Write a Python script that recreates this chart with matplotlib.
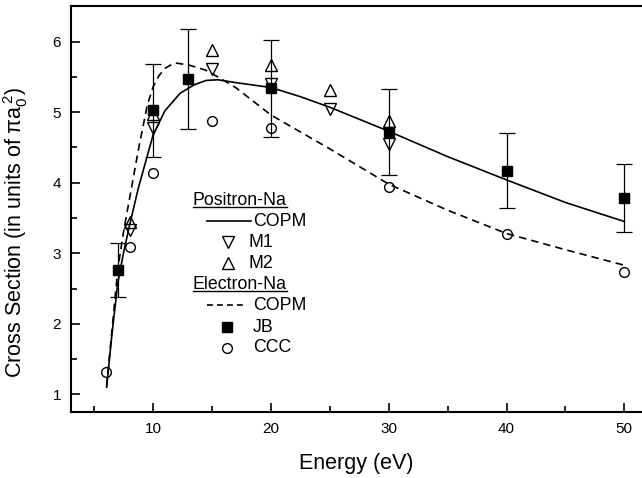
import matplotlib
matplotlib.use('Agg')
import matplotlib.pyplot as plt
from matplotlib.ticker import MultipleLocator
from matplotlib.lines import Line2D

plt.rcParams['font.family'] = ['Liberation Sans', 'DejaVu Sans']
plt.rcParams['mathtext.fontset'] = 'custom'
plt.rcParams['mathtext.rm'] = 'Liberation Sans'
plt.rcParams['mathtext.it'] = 'Liberation Sans'
plt.rcParams['mathtext.sf'] = 'Liberation Sans'

# ---------------- data ----------------
# Positron-Na COPM (solid curve)
pos_E = [6.05, 6.5, 7.0, 7.5, 8.0, 8.75, 9.5, 10.0, 11.0, 12.3, 13.5, 14.5, 15.5,
         17.0, 20.0, 22.5, 25.0, 27.5, 30.0, 35.0, 40.0, 45.0, 50.0]
pos_copm = [1.10, 1.85, 2.58, 3.02, 3.40, 3.93, 4.38, 4.68, 5.02, 5.27, 5.39, 5.45, 5.46,
            5.42, 5.35, 5.22, 5.07, 4.90, 4.73, 4.37, 4.04, 3.72, 3.45]
# Electron-Na COPM (dashed curve)
ele_E = [6.05, 6.5, 7.0, 7.5, 8.0, 8.75, 9.5, 10.0, 10.5, 11.0, 11.8, 13.0, 14.4, 15.5,
         17.0, 20.0, 25.0, 30.0, 35.0, 40.0, 45.0, 50.0]
ele_copm = [1.12, 1.90, 2.78, 3.32, 3.78, 4.47, 5.10, 5.36, 5.52, 5.62, 5.70, 5.67, 5.60, 5.50,
            5.35, 4.96, 4.48, 3.98, 3.61, 3.28, 3.05, 2.83]
# M1, M2 (positron)
m1_E = [8, 10, 15, 20, 25, 30]
m1 = [3.33, 4.77, 5.61, 5.40, 5.04, 4.55]
m2_E = [8, 10, 15, 20, 25, 30]
m2 = [3.45, 4.97, 5.88, 5.67, 5.32, 4.87]
# JB (electron, experiment)
jb_E = [7, 10, 13, 20, 30, 40, 50]
jb = [2.76, 5.03, 5.47, 5.34, 4.72, 4.17, 3.78]
jb_err = [0.38, 0.66, 0.71, 0.69, 0.61, 0.53, 0.48]
# CCC (electron)
ccc_E = [6, 8, 10, 15, 20, 30, 40, 50]
ccc = [1.31, 3.09, 4.14, 4.87, 4.77, 3.94, 3.27, 2.74]

W, H = 642, 478
fig = plt.figure(figsize=(W / 100, H / 100), dpi=100)
AX_L, AX_R, AX_T, AX_B = 70.7, 642.0, 5.7, 412.3
ax = fig.add_axes([AX_L / W, 1 - AX_B / H, (AX_R - AX_L) / W, (AX_B - AX_T) / H])

ax.plot(pos_E, pos_copm, color='k', lw=1.2, solid_joinstyle='round')
ax.plot(ele_E, ele_copm, color='k', lw=1.2, dashes=(4.5, 3))
ax.plot(m1_E, m1, 'v', mfc='none', mec='k', ms=8, mew=1.0, ls='none')
ax.plot(m2_E, m2, '^', mfc='none', mec='k', ms=8, mew=1.0, ls='none')
ax.plot(ccc_E, ccc, 'o', mfc='none', mec='k', ms=7, mew=1.0, ls='none')
ax.errorbar(jb_E, jb, yerr=jb_err, fmt='s', color='k', ms=6.5, capsize=6,
            elinewidth=0.9, capthick=0.9, zorder=5)

ax.set_xlim(3, 51.5)
ax.set_ylim(0.745, 6.51)
ax.xaxis.set_major_locator(MultipleLocator(10))
ax.xaxis.set_minor_locator(MultipleLocator(5))
ax.yaxis.set_major_locator(MultipleLocator(1))
ax.yaxis.set_minor_locator(MultipleLocator(0.5))
ax.tick_params(which='both', direction='in', top=False, right=False, width=1.2,
               labelsize=11, pad=7)
ax.tick_params(which='major', length=6.5)
ax.tick_params(which='minor', length=4)
for s in ['left', 'bottom', 'top']:
    ax.spines[s].set_linewidth(1.5)
ax.spines['right'].set_visible(False)

ax.set_xlabel('Energy (eV)', fontsize=15.5, labelpad=12)
ax.set_ylabel(r'Cross Section (in units of $\pi a_0^{\,2}$)', fontsize=15.5)
ax.yaxis.set_label_coords(-0.072, 0.443)


# ---------------- legend (manual) ----------------
def p2a(x, y):
    return ((x - AX_L) / (AX_R - AX_L), (AX_B - y) / (AX_B - AX_T))


rows = [200, 221, 242, 263, 284, 305, 327, 348]
fs = 12.8
lab_x = 253
hdrs = []
hdrs.append(ax.text(*p2a(193, rows[0]), 'Positron-Na', transform=ax.transAxes,
                    fontsize=fs, va='center', ha='left'))
ax.add_line(Line2D([p2a(207, 0)[0], p2a(251, 0)[0]], [p2a(0, rows[1])[1]] * 2,
                   transform=ax.transAxes, color='k', lw=1.2))
ax.text(*p2a(lab_x, rows[1]), 'COPM', transform=ax.transAxes, fontsize=fs, va='center')
ax.plot(*p2a(228, rows[2]), 'v', mfc='none', mec='k', ms=8, mew=1.0, transform=ax.transAxes)
ax.text(*p2a(lab_x - 5, rows[2]), 'M1', transform=ax.transAxes, fontsize=fs, va='center')
ax.plot(*p2a(228, rows[3]), '^', mfc='none', mec='k', ms=8, mew=1.0, transform=ax.transAxes)
ax.text(*p2a(lab_x - 5, rows[3]), 'M2', transform=ax.transAxes, fontsize=fs, va='center')
hdrs.append(ax.text(*p2a(193, rows[4]), 'Electron-Na', transform=ax.transAxes,
                    fontsize=fs, va='center', ha='left'))
ax.add_line(Line2D([p2a(207, 0)[0], p2a(247, 0)[0]], [p2a(0, rows[5])[1]] * 2,
                   transform=ax.transAxes, color='k', lw=1.2, dashes=(3.5, 2.5)))
ax.text(*p2a(lab_x, rows[5]), 'COPM', transform=ax.transAxes, fontsize=fs, va='center')
ax.plot(*p2a(227, rows[6]), 's', color='k', ms=6.5, transform=ax.transAxes)
ax.text(*p2a(lab_x, rows[6]), 'JB', transform=ax.transAxes, fontsize=fs, va='center')
ax.plot(*p2a(227, rows[7]), 'o', mfc='none', mec='k', ms=7, mew=1.0, transform=ax.transAxes)
ax.text(*p2a(lab_x, rows[7]), 'CCC', transform=ax.transAxes, fontsize=fs, va='center')

fig.canvas.draw()
r = fig.canvas.get_renderer()
for t in hdrs:
    bb = t.get_window_extent(r)
    yb = bb.y0 + 1.5
    fig.add_artist(Line2D([bb.x0 / W, bb.x1 / W], [yb / H, yb / H],
                          transform=fig.transFigure, color='k', lw=1.0))

fig.savefig('out.png', dpi=100)
